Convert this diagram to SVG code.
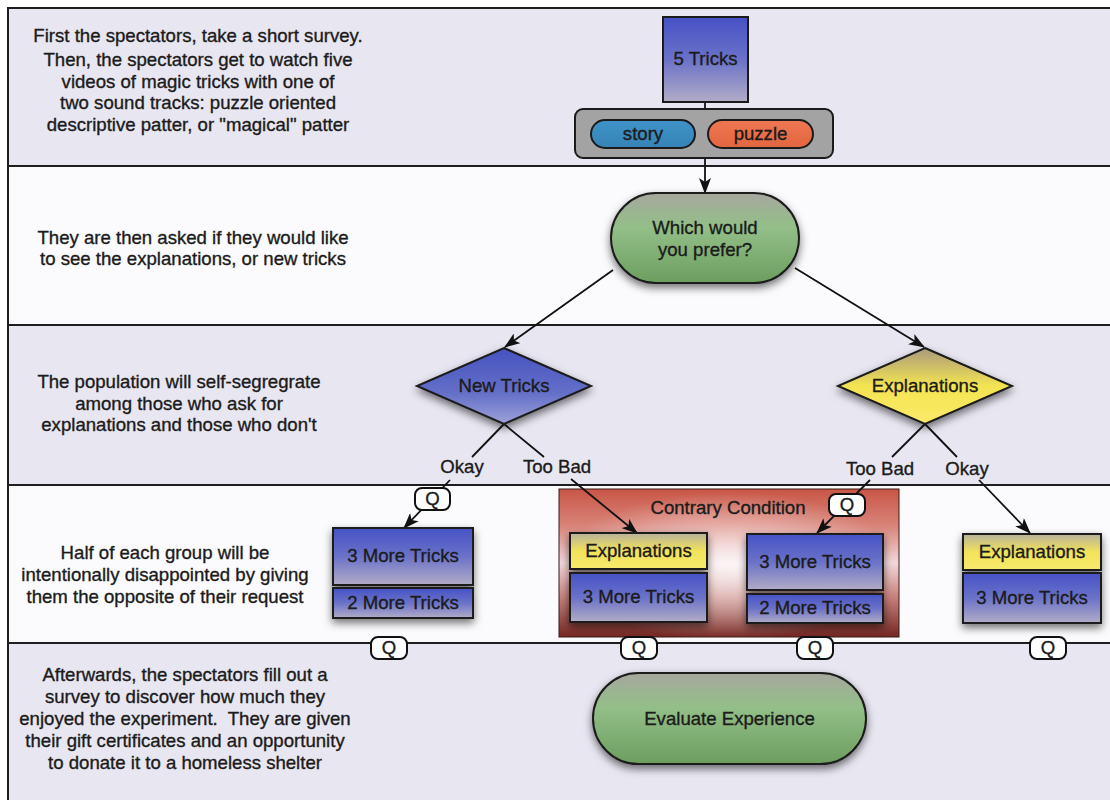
<svg xmlns="http://www.w3.org/2000/svg" width="1110" height="800" viewBox="0 0 1110 800">
<style>
.t{font-family:"Liberation Sans",Arial,Helvetica,sans-serif;font-size:18.6px;fill:#1b1b1b;stroke:#1b1b1b;stroke-width:0.35px;text-anchor:middle}
.band-a{fill:#e8e6f0}
.band-b{fill:#fbfbfd}
.sep{stroke:#1e1e1e;stroke-width:2;fill:none}
.conn{stroke:#111;stroke-width:1.8;fill:none}
.node{stroke:#1a1a1a;stroke-width:2}
.q{fill:#fff;stroke:#111;stroke-width:2}
</style>
<defs>
<linearGradient id="blueG" x1="0" y1="0" x2="0" y2="1">
<stop offset="0" stop-color="#4652c6"/><stop offset="0.5" stop-color="#6a72c8"/><stop offset="1" stop-color="#b2acc6"/>
</linearGradient>
<linearGradient id="yellowG" x1="0" y1="0" x2="0" y2="1">
<stop offset="0" stop-color="#b7b19c"/><stop offset="0.5" stop-color="#f2e35a"/><stop offset="1" stop-color="#f7ea6c"/>
</linearGradient>
<linearGradient id="greenG" x1="0" y1="0" x2="0" y2="1">
<stop offset="0" stop-color="#a6a79e"/><stop offset="0.38" stop-color="#93bf88"/><stop offset="1" stop-color="#6c9e5f"/>
</linearGradient>
<linearGradient id="dBlueG" x1="0" y1="0" x2="0" y2="1">
<stop offset="0" stop-color="#4552bf"/><stop offset="0.6" stop-color="#6570c8"/><stop offset="1" stop-color="#9da2d8"/>
</linearGradient>
<linearGradient id="dYellowG" x1="0" y1="0" x2="0" y2="1">
<stop offset="0" stop-color="#a89a7c"/><stop offset="0.5" stop-color="#f4e452"/><stop offset="1" stop-color="#faea6a"/>
</linearGradient>
<linearGradient id="storyG" x1="0" y1="0" x2="0" y2="1">
<stop offset="0" stop-color="#3f93c8"/><stop offset="1" stop-color="#3583b6"/>
</linearGradient>
<linearGradient id="puzzleG" x1="0" y1="0" x2="0" y2="1">
<stop offset="0" stop-color="#ee7752"/><stop offset="1" stop-color="#e2663f"/>
</linearGradient>
<linearGradient id="redG" x1="0" y1="0" x2="0" y2="1">
<stop offset="0" stop-color="#c85646"/><stop offset="0.25" stop-color="#d9847a"/><stop offset="0.5" stop-color="#f1d6da"/><stop offset="0.72" stop-color="#c98580"/><stop offset="1" stop-color="#752722"/>
</linearGradient>
<radialGradient id="glowG" cx="0.5" cy="0.52" r="0.5">
<stop offset="0" stop-color="#ffffff" stop-opacity="0.75"/><stop offset="1" stop-color="#ffffff" stop-opacity="0"/>
</radialGradient>
<filter id="sh" x="-20%" y="-20%" width="140%" height="170%">
<feDropShadow dx="0" dy="4" stdDeviation="4" flood-color="#000" flood-opacity="0.55"/>
</filter>
<marker id="arr" markerUnits="userSpaceOnUse" markerWidth="16" markerHeight="12" viewBox="0 0 16 12" refX="15" refY="6" orient="auto">
<path d="M0,0 L16,6 L0,12 L4,6 z" fill="#111"/>
</marker>
</defs>

<rect x="0" y="0" width="1110" height="800" fill="#ffffff"/>
<g id="bands">
<rect class="band-a" x="8" y="8" width="1102" height="158"/>
<rect class="band-b" x="8" y="166" width="1102" height="159"/>
<rect class="band-a" x="8" y="325" width="1102" height="160"/>
<rect class="band-b" x="8" y="485" width="1102" height="158"/>
<rect class="band-a" x="8" y="643" width="1102" height="157"/>
<path class="sep" d="M8,8 H1110 M8,166 H1110 M8,325 H1110 M8,485 H1110 M8,643 H1110 M8,7 V800"/>
</g>

<g id="notes">
<text class="t" x="198" y="42">First the spectators, take a short survey.</text>
<text class="t" x="198" y="66">Then, the spectators get to watch five</text>
<text class="t" x="198" y="87.5">videos of magic tricks with one of</text>
<text class="t" x="198" y="109">two sound tracks: puzzle oriented</text>
<text class="t" x="198" y="130.5">descriptive patter, or "magical" patter</text>
<text class="t" x="193" y="244">They are then asked if they would like</text>
<text class="t" x="193" y="265">to see the explanations, or new tricks</text>
<text class="t" x="179" y="388">The population will self-segregrate</text>
<text class="t" x="179" y="410">among those who ask for</text>
<text class="t" x="179" y="431">explanations and those who don't</text>
<text class="t" x="165" y="559">Half of each group will be</text>
<text class="t" x="165" y="581">intentionally disappointed by giving</text>
<text class="t" x="165" y="603">them the opposite of their request</text>
<text class="t" x="185" y="681">Afterwards, the spectators fill out a</text>
<text class="t" x="185" y="703">survey to discover how much they</text>
<text class="t" x="185" y="725">enjoyed the experiment.&#160; They are given</text>
<text class="t" x="185" y="747">their gift certificates and an opportunity</text>
<text class="t" x="185" y="769">to donate it to a homeless shelter</text>
</g>

<g id="contrary">
<rect x="559" y="489" width="340" height="148" fill="url(#redG)" stroke="#3a1a16" stroke-width="1"/>
<rect x="559" y="489" width="340" height="148" fill="url(#glowG)"/>
<text class="t" x="728" y="514">Contrary Condition</text>
</g>

<g id="connectors">
<path class="conn" d="M705,102 V109"/>
<path class="conn" d="M705,158 V193" marker-end="url(#arr)"/>
<path class="conn" d="M613,270 L505,347" marker-end="url(#arr)"/>
<path class="conn" d="M795,268 L924,347" marker-end="url(#arr)"/>
<path class="conn" d="M504,424 L472,457"/>
<path class="conn" d="M450,480 L404,528" marker-end="url(#arr)"/>
<path class="conn" d="M504,424 L544,457"/>
<path class="conn" d="M571,479 L637,533" marker-end="url(#arr)"/>
<path class="conn" d="M925,424 L892,457"/>
<path class="conn" d="M870,480 L817,533" marker-end="url(#arr)"/>
<path class="conn" d="M925,424 L957,457"/>
<path class="conn" d="M979,480 L1030,533" marker-end="url(#arr)"/>
</g>

<g id="edge-labels">
<text class="t" x="462" y="473">Okay</text>
<text class="t" x="557" y="473">Too Bad</text>
<text class="t" x="880" y="475">Too Bad</text>
<text class="t" x="967" y="475">Okay</text>
</g>

<g id="five-tricks">
<rect class="node" x="663" y="17" width="85" height="85" fill="url(#blueG)"/>
<text class="t" x="705.5" y="65">5 Tricks</text>
</g>
<g id="soundtracks">
<rect class="node" x="575" y="109" width="258" height="49" rx="8" fill="#a3a3a3"/>
</g>
<g id="story">
<rect class="node" x="591" y="120" width="104" height="28" rx="14" fill="url(#storyG)"/>
<text class="t" x="643" y="140">story</text>
</g>
<g id="puzzle">
<rect class="node" x="708" y="120" width="105" height="28" rx="14" fill="url(#puzzleG)"/>
<text class="t" x="760.5" y="140">puzzle</text>
</g>

<g id="which">
<rect class="node" x="611" y="193" width="188" height="90" rx="45" fill="url(#greenG)" filter="url(#sh)"/>
<text class="t" x="705" y="234">Which would</text>
<text class="t" x="705" y="256">you prefer?</text>
</g>

<g id="new-tricks">
<polygon class="node" points="504,348 591,386 504,424 417,386" fill="url(#dBlueG)" filter="url(#sh)"/>
<text class="t" x="504" y="392">New Tricks</text>
</g>
<g id="explanations-choice">
<polygon class="node" points="925,348 1012,386 925,424 838,386" fill="url(#dYellowG)" filter="url(#sh)"/>
<text class="t" x="925" y="392">Explanations</text>
</g>

<g id="q-top-left">
<rect class="q" x="415" y="488" width="35" height="22" rx="7"/>
<text class="t" x="432.5" y="505">Q</text>
</g>
<g id="q-top-right">
<rect class="q" x="829" y="494" width="36" height="22" rx="7"/>
<text class="t" x="847" y="511">Q</text>
</g>

<g id="okay-new" filter="url(#sh)">
<rect class="node" x="333" y="528" width="140" height="57" fill="url(#blueG)"/>
<rect class="node" x="333" y="588" width="140" height="30" fill="url(#blueG)"/>
</g>
<g id="okay-new-text">
<text class="t" x="403" y="562">3 More Tricks</text>
<text class="t" x="403" y="609">2 More Tricks</text>
</g>

<g id="toobad-new" filter="url(#sh)">
<rect class="node" x="570" y="533" width="137" height="36" fill="url(#yellowG)"/>
<rect class="node" x="570" y="573" width="137" height="49" fill="url(#blueG)"/>
</g>
<g id="toobad-new-text">
<text class="t" x="638.5" y="557">Explanations</text>
<text class="t" x="638.5" y="603">3 More Tricks</text>
</g>

<g id="toobad-exp" filter="url(#sh)">
<rect class="node" x="747" y="534" width="136" height="56" fill="url(#blueG)"/>
<rect class="node" x="747" y="594" width="136" height="29" fill="url(#blueG)"/>
</g>
<g id="toobad-exp-text">
<text class="t" x="815" y="568">3 More Tricks</text>
<text class="t" x="815" y="614">2 More Tricks</text>
</g>

<g id="okay-exp" filter="url(#sh)">
<rect class="node" x="963" y="534" width="138" height="36" fill="url(#yellowG)"/>
<rect class="node" x="963" y="573" width="138" height="50" fill="url(#blueG)"/>
</g>
<g id="okay-exp-text">
<text class="t" x="1032" y="558">Explanations</text>
<text class="t" x="1032" y="604">3 More Tricks</text>
</g>

<g id="q-bottom">
<rect class="q" x="371" y="637" width="36" height="22" rx="7"/>
<text class="t" x="389" y="654">Q</text>
<rect class="q" x="621" y="637" width="36" height="22" rx="7"/>
<text class="t" x="639" y="654">Q</text>
<rect class="q" x="797" y="637" width="36" height="22" rx="7"/>
<text class="t" x="815" y="654">Q</text>
<rect class="q" x="1030" y="637" width="36" height="22" rx="7"/>
<text class="t" x="1048" y="654">Q</text>
</g>

<g id="evaluate">
<rect class="node" x="593" y="673" width="273" height="91" rx="45.5" fill="url(#greenG)" filter="url(#sh)"/>
<text class="t" x="729.5" y="725">Evaluate Experience</text>
</g>
</svg>
